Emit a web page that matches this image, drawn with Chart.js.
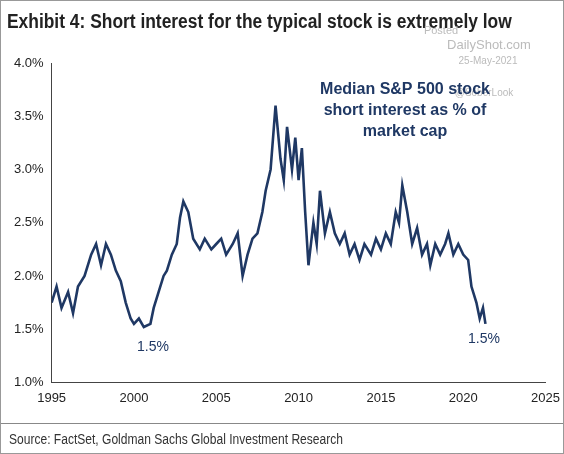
<!DOCTYPE html><html><head><script src="https://cdn.jsdelivr.net/npm/chart.js@4"></script>
<style>body{margin:0;background:#fff}#w{position:relative;width:562px;height:452px;border:1px solid #999}</style></head><body>
<div id="w"><canvas id="c" width="562" height="452"></canvas></div>
<script>
const years=[1995,1995.3,1995.6,1996,1996.3,1996.6,1997,1997.4,1997.7,1998,1998.3,1998.6,1998.9,1999.2,1999.5,1999.8,2000,2000.3,2000.6,2001,2001.2,2001.5,2001.8,2002,2002.3,2002.6,2002.8,2003,2003.3,2003.6,2004,2004.3,2004.7,2005,2005.3,2005.6,2006,2006.3,2006.6,2006.9,2007.2,2007.5,2007.8,2008,2008.3,2008.6,2008.9,2009.1,2009.3,2009.6,2009.8,2010,2010.2,2010.4,2010.6,2010.9,2011.1,2011.3,2011.6,2011.9,2012.2,2012.5,2012.8,2013.1,2013.4,2013.7,2014,2014.4,2014.7,2015,2015.3,2015.6,2015.9,2016.1,2016.3,2016.6,2016.9,2017.2,2017.5,2017.8,2018,2018.3,2018.6,2018.9,2019.1,2019.4,2019.7,2020,2020.3,2020.5,2020.8,2021,2021.2,2021.35];
const values=[1.75,1.9,1.7,1.85,1.65,1.9,2.0,2.2,2.3,2.1,2.3,2.2,2.05,1.95,1.75,1.6,1.55,1.6,1.52,1.55,1.7,1.85,2.0,2.05,2.2,2.3,2.55,2.7,2.6,2.35,2.25,2.35,2.25,2.3,2.35,2.2,2.3,2.4,2.0,2.2,2.35,2.4,2.6,2.8,3.0,3.6,3.1,2.9,3.4,3.0,3.3,2.9,3.2,2.6,2.1,2.5,2.3,2.8,2.4,2.6,2.4,2.3,2.4,2.2,2.3,2.15,2.3,2.2,2.35,2.25,2.4,2.3,2.6,2.5,2.85,2.6,2.3,2.45,2.2,2.3,2.1,2.3,2.2,2.3,2.4,2.2,2.3,2.2,2.15,1.9,1.75,1.6,1.7,1.55];
const xTicks=[1995,2000,2005,2010,2015,2020,2025];
const yTicks=[1.0,1.5,2.0,2.5,3.0,3.5,4.0];
const deco={id:'deco',afterDraw(ch){const c=ch.ctx;c.save();
c.fillStyle='#222';c.textBaseline='alphabetic';
c.save();c.translate(6,27);c.scale(0.87,1);c.font='bold 20px "Liberation Sans"';c.fillText('Exhibit 4: Short interest for the typical stock is extremely low',0,0);c.restore();
c.fillStyle='#bbb';c.font='11px "Liberation Sans"';c.textAlign='center';
c.fillText('Posted',440,33);c.font='13px "Liberation Sans"';c.fillText('DailyShot.com',488,48);
c.font='10px "Liberation Sans"';c.fillText('25-May-2021',487,63);c.fillText('@SoberLook',483,95);
c.fillStyle='#1f3864';c.font='bold 16px "Liberation Sans"';
c.fillText('Median S&P 500 stock',404,93);c.fillText('short interest as % of',404,114);c.fillText('market cap',404,135);
c.font='14px "Liberation Sans"';c.fillText('1.5%',152,350);c.fillText('1.5%',483,342);
c.strokeStyle='#888';c.lineWidth=1;c.beginPath();c.moveTo(0,422.5);c.lineTo(562,422.5);c.stroke();
c.fillStyle='#333';c.textAlign='left';
c.save();c.translate(8,443);c.scale(0.86,1);c.font='14px "Liberation Sans"';c.fillText('Source: FactSet, Goldman Sachs Global Investment Research',0,0);c.restore();
c.restore();}};
new Chart(document.getElementById('c'),{type:'line',data:{datasets:[{data:years.map((y,i)=>({x:y,y:values[i]})),borderColor:'#1f3864',borderWidth:2.6,pointRadius:0,tension:0}]},
options:{responsive:false,animation:false,layout:{padding:{top:62,right:17,bottom:44,left:10}},plugins:{legend:{display:false},tooltip:{enabled:false}},
scales:{x:{type:'linear',min:1995,max:2025,afterBuildTicks:a=>{a.ticks=xTicks.map(v=>({value:v}))},ticks:{color:'#222',font:{size:13,family:'Liberation Sans'},callback:v=>v},grid:{display:false,drawTicks:true,tickLength:5},border:{color:'#444'}},
y:{min:1,max:4,afterBuildTicks:a=>{a.ticks=yTicks.map(v=>({value:v}))},ticks:{color:'#222',font:{size:13,family:'Liberation Sans'},callback:v=>v.toFixed(1)+'%'},grid:{display:false,tickLength:5},border:{color:'#444'}}}},plugins:[deco]});
</script></body></html>
